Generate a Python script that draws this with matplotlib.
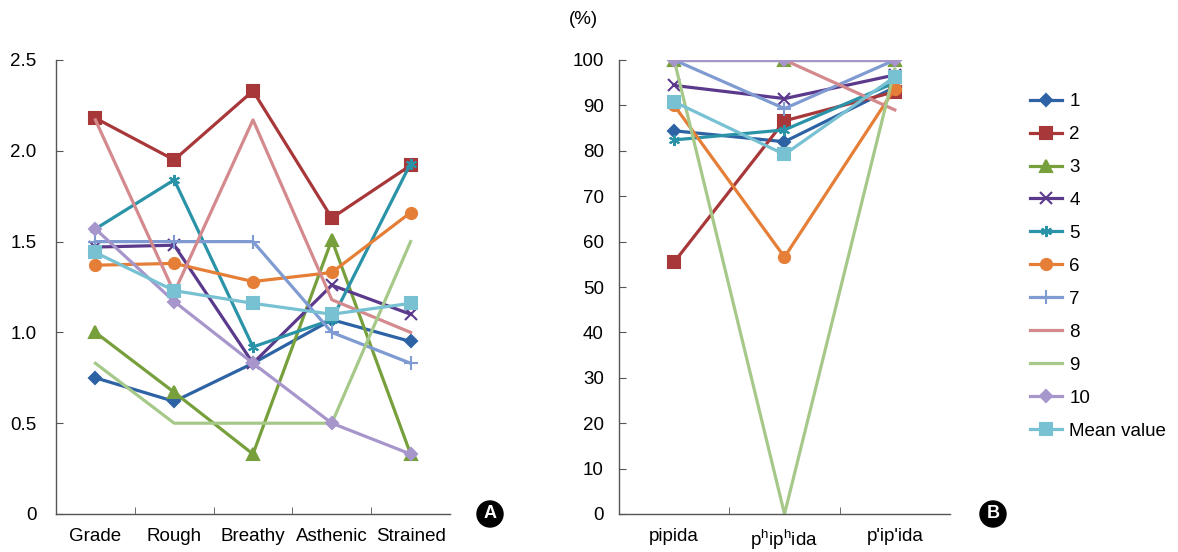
import numpy as np
import matplotlib
matplotlib.use("Agg")
import matplotlib.pyplot as plt

plt.rcParams['font.family'] = ['Liberation Sans', 'DejaVu Sans']
plt.rcParams['mathtext.fontset'] = 'custom'
plt.rcParams['mathtext.rm'] = 'Liberation Sans'
plt.rcParams['mathtext.it'] = 'Liberation Sans'

# panel A: GRBAS ratings
grbas_labels = ['Grade', 'Rough', 'Breathy', 'Asthenic', 'Strained']
series_names = ['1', '2', '3', '4', '5', '6', '7', '8', '9', '10', 'Mean value']
grbas = {
    '1': [0.75, 0.62, 0.83, 1.07, 0.95],
    '2': [2.18, 1.95, 2.33, 1.63, 1.92],
    '3': [1.00, 0.67, 0.33, 1.51, 0.33],
    '4': [1.47, 1.48, 0.83, 1.26, 1.10],
    '5': [1.57, 1.84, 0.92, 1.07, 1.93],
    '6': [1.37, 1.38, 1.28, 1.33, 1.66],
    '7': [1.50, 1.50, 1.50, 1.00, 0.83],
    '8': [2.17, 1.22, 2.17, 1.18, 1.00],
    '9': [0.83, 0.50, 0.50, 0.50, 1.50],
    '10': [1.57, 1.17, 0.83, 0.50, 0.33],
    'Mean value': [1.44, 1.23, 1.16, 1.10, 1.16],
}

# panel B: percent correct
word_labels = ['pipida', r'p$^{\mathrm{h}}$ip$^{\mathrm{h}}$ida', "p'ip'ida"]
percent = {
    '1': [84.4, 82.0, 94.0],
    '2': [55.5, 86.6, 93.0],
    '3': [100.0, 100.0, 100.0],
    '4': [94.4, 91.5, 96.7],
    '5': [82.4, 84.6, 95.0],
    '6': [90.0, 56.6, 93.7],
    '7': [100.0, 89.3, 100.0],
    '8': [100.0, 100.0, 89.0],
    '9': [100.0, 0.0, 98.0],
    '10': [100.0, 100.0, 100.0],
    'Mean value': [90.8, 79.2, 96.3],
}

colors = ['#2D63A5', '#A8373A', '#77A03C', '#5B3A8C', '#2B93A8', '#E57E36',
          '#7F9BD2', '#D48A8D', '#A6C98A', '#A796CB', '#78C1D3']
markers = ['D', 's', '^', 'x', (6, 2, 0), 'o', '+', None, None, 'D', 's']
msizes = [6, 9, 8, 8, 8, 8, 10, 0, 0, 6, 9]

fs = 13.5
fig = plt.figure(figsize=(11.78, 5.52), dpi=100)
ax1 = fig.add_axes([56 / 1178, 1 - 514 / 552, 394 / 1178, 454 / 552])
ax2 = fig.add_axes([619 / 1178, 1 - 514 / 552, 331 / 1178, 454 / 552])

for i, name in enumerate(series_names):
    ax1.plot(range(len(grbas_labels)), grbas[name], color=colors[i], lw=2.3,
             marker=markers[i], ms=msizes[i], mew=1.5, label=name)
    ax2.plot(range(len(word_labels)), percent[name], color=colors[i], lw=2.3,
             marker=markers[i], ms=msizes[i], mew=1.5, label=name)

for ax, labels in [(ax1, grbas_labels), (ax2, word_labels)]:
    n = len(labels)
    ax.set_xlim(-0.5, n - 0.5)
    ax.set_xticks(range(n))
    ax.set_xticklabels(labels, fontsize=fs)
    ax.set_xticks(np.arange(0.5, n - 0.5, 1), minor=True)
    ax.tick_params(axis='x', which='major', length=0, pad=10)
    ax.tick_params(axis='x', which='minor', direction='in', length=5, color='#555555')
    ax.tick_params(axis='y', direction='in', length=5, color='#555555', labelsize=fs)
    for s in ['top', 'right']:
        ax.spines[s].set_visible(False)
    for s in ['left', 'bottom']:
        ax.spines[s].set_color('#555555')
        ax.spines[s].set_linewidth(1.0)

ax1.set_ylim(0, 2.5)
ax1.set_yticks([0, 0.5, 1.0, 1.5, 2.0, 2.5])
ax1.set_yticklabels(['0', '0.5', '1.0', '1.5', '2.0', '2.5'])
ax1.tick_params(axis='y', pad=14)

ax2.set_ylim(0, 100)
ax2.set_yticks(range(0, 101, 10))
ax2.tick_params(axis='y', pad=11)
fig.text(583 / 1178, 1 - 20 / 552, '(%)', fontsize=fs, ha='center', va='center')

handles, labels = ax2.get_legend_handles_labels()
fig.legend(handles, labels, loc='upper left', bbox_to_anchor=(1030 / 1178, 1 - 93 / 552),
           frameon=False, fontsize=fs, handlelength=1.7, labelspacing=0.845,
           handletextpad=0.4, borderpad=0, borderaxespad=0)

for x, letter in [(490, 'A'), (993, 'B')]:
    fig.text(x / 1178, 1 - 514 / 552, letter, fontsize=13, fontweight='bold',
             color='white', ha='center', va='center',
             bbox=dict(boxstyle='circle,pad=0.25', fc='black', ec='black'))

fig.savefig('out.png', dpi=100)
